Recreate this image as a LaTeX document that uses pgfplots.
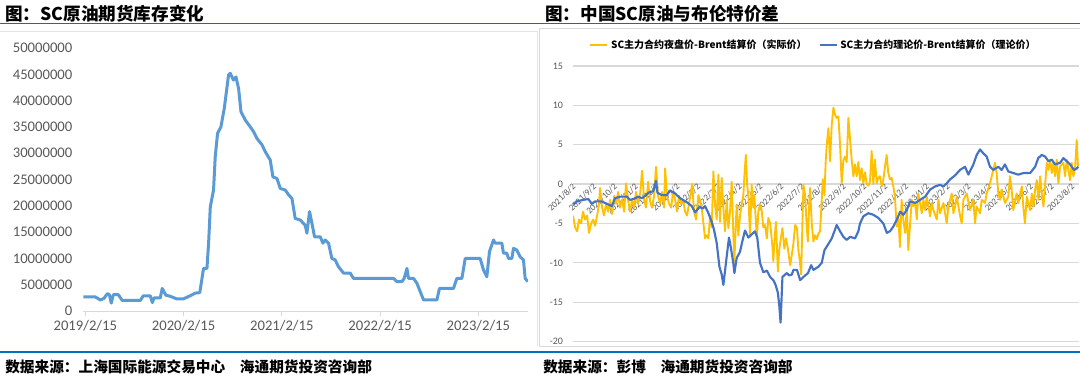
\documentclass[border=0pt]{standalone}
\usepackage{pgfplots}
\pgfplotsset{compat=1.18}
\usepackage{fontspec}
\setmainfont{Carlito}
\newfontfamily\cjk{Noto Sans CJK SC}
\definecolor{leftblue}{RGB}{91,155,213}
\definecolor{gold}{RGB}{255,192,0}
\definecolor{dblue}{RGB}{68,114,196}
\definecolor{rulecol}{RGB}{0,112,192}
\definecolor{gridgray}{RGB}{217,217,217}
\definecolor{tlabel}{RGB}{89,89,89}
\definecolor{framecol}{RGB}{228,228,228}
\begin{document}
\begin{tikzpicture}
\fill[white] (0,0) rectangle (810pt,285pt);
% frames
\draw[framecol, line width=0.6pt] (0,261.75pt) -- (402.75pt,261.75pt) -- (402.75pt,25.5pt);
\draw[gridgray, line width=0.6pt] (404.25pt,25.5pt) rectangle (815pt,264pt);
% rules
\draw[rulecol, line width=1.2pt] (0,267.4pt) -- (810pt,267.4pt);
\draw[rulecol, line width=1.2pt] (0,21pt) -- (810pt,21pt);
% titles
\node[anchor=west, inner sep=0pt] at (3.75pt,274.6pt) {\cjk\bfseries\fontsize{13.2}{15}\selectfont 图：SC原油期货库存变化};
\node[anchor=west, inner sep=0pt] at (408.75pt,274.6pt) {\cjk\bfseries\fontsize{13.2}{15}\selectfont 图：中国SC原油与布伦特价差};
% footers
\node[anchor=west, inner sep=0pt] at (3.75pt,9.75pt) {\cjk\bfseries\fontsize{11}{13}\selectfont 数据来源：上海国际能源交易中心\quad 海通期货投资咨询部};
\node[anchor=west, inner sep=0pt] at (407.25pt,9.75pt) {\cjk\bfseries\fontsize{11}{13}\selectfont 数据来源：彭博\quad 海通期货投资咨询部};

% ---------------- left chart ----------------
\begin{axis}[
  at={(62.5pt,51.75pt)}, anchor=south west,
  scale only axis, width=333.5pt, height=197.25pt,
  xmin=-0.02, xmax=4.505, ymin=0, ymax=50000000,
  enlargelimits=false,
  scaled y ticks=false, scaled x ticks=false,
  axis x line*=bottom, axis y line*=left,
  x axis line style={draw=gridgray, line width=0.75pt},
  y axis line style={draw=none},
  tick align=outside, major tick length=3.75pt,
  xtick={0,1,2,3,4},
  xticklabels={2019/2/15,2020/2/15,2021/2/15,2022/2/15,2023/2/15},
  xtick style={draw=gridgray, line width=0.75pt},
  ytick={0,5000000,10000000,15000000,20000000,25000000,30000000,35000000,40000000,45000000,50000000},
  yticklabels={0,5000000,10000000,15000000,20000000,25000000,30000000,35000000,40000000,45000000,50000000},
  ytick style={draw=none},
  ticklabel style={font=\fontsize{11}{12}\selectfont, text=tlabel},
  yticklabel style={xshift=-1pt},
]
\addplot[leftblue, line width=2.25pt, line join=round] coordinates {
(-0.02,2700000)(0.10,2700000)(0.153,2100000)(0.19,2400000)(0.224,3300000)(0.245,3100000)(0.264,1500000)(0.285,3100000)(0.336,3100000)(0.376,2000000)(0.56,2000000)(0.59,2900000)(0.661,2900000)(0.682,1600000)(0.70,2500000)(0.763,2500000)(0.783,4300000)(0.82,3000000)(0.865,2800000)(0.93,2300000)(0.997,2300000)(1.068,2900000)(1.119,3400000)(1.165,3500000)(1.19,6500000)(1.203,8100000)(1.238,8100000)(1.255,13000000)(1.272,19800000)(1.305,23000000)(1.322,29300000)(1.346,33800000)(1.380,35000000)(1.414,38500000)(1.458,44900000)(1.475,45200000)(1.492,44500000)(1.509,43900000)(1.533,44500000)(1.560,42300000)(1.584,37900000)(1.628,36300000)(1.679,35000000)(1.712,34100000)(1.747,32800000)(1.798,31600000)(1.831,30300000)(1.882,28700000)(1.909,25500000)(1.950,25200000)(1.984,23300000)(2.035,23000000)(2.068,22100000)(2.103,21400000)(2.136,17600000)(2.187,17300000)(2.238,16300000)(2.255,14800000)(2.282,18900000)(2.306,16700000)(2.333,14100000)(2.391,14100000)(2.418,12900000)(2.441,13500000)(2.475,12900000)(2.509,10000000)(2.543,9700000)(2.577,8400000)(2.628,7200000)(2.696,7200000)(2.729,6200000)(3.136,6200000)(3.171,5600000)(3.222,5600000)(3.245,6200000)(3.273,8100000)(3.289,6200000)(3.340,6200000)(3.374,5300000)(3.408,3700000)(3.442,2100000)(3.578,2100000)(3.604,4300000)(3.747,4300000)(3.781,6200000)(3.832,6200000)(3.866,10000000)(4.018,10000000)(4.052,7800000)(4.086,6500000)(4.113,11300000)(4.154,13500000)(4.171,12900000)(4.239,12900000)(4.255,11000000)(4.289,11000000)(4.306,10000000)(4.341,10000000)(4.357,11900000)(4.391,11600000)(4.425,10300000)(4.459,9700000)(4.476,6200000)(4.504,5600000)
};
\end{axis}

% ---------------- right chart ----------------
\begin{axis}[
  at={(429.75pt,28.875pt)}, anchor=south west,
  scale only axis, width=379.5pt, height=206.625pt,
  xmin=-0.1, xmax=24.23, ymin=-20, ymax=15,
  enlargelimits=false,
  axis x line*=middle, axis y line*=left,
  x axis line style={draw=gridgray, line width=0.9pt},
  y axis line style={draw=none},
  ymajorgrids, grid style={gridgray, line width=0.9pt},
  ytick={-20,-15,-10,-5,0,5,10,15},
  yticklabels={-20,-15,-10,-5,0,5,10,15},
  ytick style={draw=none}, xtick style={draw=none},
  major tick length=0pt,
  xtick={0,1,...,24},
  xticklabels={2021/8/2,2021/9/2,2021/10/2,2021/11/2,2021/12/2,2022/1/2,2022/2/2,2022/3/2,2022/4/2,2022/5/2,2022/6/2,2022/7/2,2022/8/2,2022/9/2,2022/10/2,2022/11/2,2022/12/2,2023/1/2,2023/2/2,2023/3/2,2023/4/2,2023/5/2,2023/6/2,2023/7/2,2023/8/2},
  xticklabel style={font=\fontsize{6.8}{8}\selectfont, text=tlabel, rotate=45, anchor=east, inner sep=1pt},
  yticklabel style={font=\fontsize{7.5}{8}\selectfont, text=tlabel, xshift=-4pt},
  legend style={at={(0.476,1.076)}, anchor=center, legend columns=2, draw=none, fill=none,
    font=\cjk\bfseries\fontsize{7.5}{9}\selectfont, inner sep=0pt,
    /tikz/every even column/.append style={column sep=7pt}},
  legend image code/.code={\draw[#1, line width=1.6pt] (0pt,0pt) -- (12.75pt,0pt);},
]
\addplot[gold, line width=1.4pt, line join=round] coordinates {
(-0.10,-4.0)(0.00,-5.5)(0.10,-6.0)(0.19,-4.5)(0.29,-5.0)(0.38,-3.5)(0.48,-4.5)(0.58,-4.0)(0.67,-6.2)(0.77,-5.0)(0.87,-4.5)(0.96,-5.3)(1.06,-4.0)(1.15,-2.5)(1.20,-0.5)(1.30,-3.0)(1.39,-4.0)(1.49,-2.5)(1.59,-3.5)(1.68,-2.0)(1.78,-3.8)(1.88,-1.5)(1.97,-2.5)(2.07,-1.0)(2.16,-3.0)(2.26,-2.0)(2.36,-3.5)(2.45,0.1)(2.55,-2.0)(2.64,-3.5)(2.74,-2.0)(2.84,-3.0)(2.93,-1.0)(3.03,-2.5)(3.13,-1.2)(3.22,1.7)(3.32,-2.0)(3.41,-3.0)(3.51,0.3)(3.61,-2.2)(3.70,-3.0)(3.80,-1.5)(3.89,2.2)(3.99,-1.5)(4.09,-2.5)(4.18,-1.0)(4.28,-3.0)(4.33,2.0)(4.42,-1.5)(4.52,-2.5)(4.62,-3.0)(4.71,-1.0)(4.81,-2.0)(4.90,-3.5)(5.00,-1.5)(5.10,-2.5)(5.19,-2.0)(5.29,-3.5)(5.38,-4.0)(5.48,-2.5)(5.63,0.0)(5.72,-3.5)(5.82,-4.5)(5.93,-1.4)(6.09,-3.0)(6.17,-5.0)(6.25,-6.9)(6.33,-6.5)(6.41,-6.9)(6.49,-4.0)(6.57,-5.5)(6.65,1.6)(6.73,-2.6)(6.81,-4.5)(6.89,1.2)(6.97,-4.8)(7.05,0.8)(7.13,-3.0)(7.21,-6.0)(7.29,-2.0)(7.37,-5.6)(7.45,-3.5)(7.53,0.3)(7.61,-6.5)(7.66,-9.8)(7.73,-5.0)(7.77,-2.6)(7.85,-6.5)(7.93,-4.0)(8.01,-2.6)(8.09,-1.4)(8.14,1.0)(8.21,3.7)(8.27,0.0)(8.33,-1.4)(8.41,-6.5)(8.49,-0.1)(8.57,-3.0)(8.62,-1.4)(8.74,-6.9)(8.81,-3.5)(8.89,-2.6)(8.98,-3.5)(9.05,-5.5)(9.13,-5.2)(9.22,-6.9)(9.29,-4.3)(9.38,-5.0)(9.42,-6.0)(9.49,-8.0)(9.53,-9.8)(9.62,-6.0)(9.66,-4.8)(9.75,-11.1)(9.81,-8.5)(9.89,-6.9)(9.97,-5.6)(10.06,-8.2)(10.14,-6.9)(10.22,-8.0)(10.34,-10.3)(10.42,-9.0)(10.50,-7.5)(10.58,-5.2)(10.67,-5.6)(10.74,-8.5)(10.79,-9.4)(10.87,-11.5)(10.93,-5.0)(10.98,-0.1)(11.06,-1.4)(11.14,-5.5)(11.19,-7.3)(11.25,-3.0)(11.30,-0.5)(11.38,-5.0)(11.46,-7.3)(11.54,-6.5)(11.62,-7.0)(11.70,-6.3)(11.78,-6.0)(11.86,-2.0)(11.91,0.6)(11.99,-1.4)(12.05,2.9)(12.10,5.0)(12.18,7.1)(12.26,2.9)(12.34,7.5)(12.42,9.7)(12.50,8.8)(12.58,8.4)(12.66,8.6)(12.74,5.0)(12.82,0.1)(12.90,3.0)(12.98,3.5)(13.06,2.8)(13.14,8.4)(13.22,5.7)(13.30,3.1)(13.38,1.0)(13.46,2.5)(13.54,1.0)(13.62,2.8)(13.70,0.5)(13.78,2.0)(13.86,0.1)(13.94,1.5)(14.02,0.0)(14.10,-0.2)(14.18,0.3)(14.26,4.2)(14.34,0.0)(14.42,3.1)(14.50,0.1)(14.58,0.8)(14.66,1.0)(14.74,-0.3)(14.82,0.5)(14.90,2.2)(14.98,3.7)(15.06,1.4)(15.14,0.6)(15.22,0.8)(15.30,-0.3)(15.38,-1.6)(15.46,-5.4)(15.54,-4.1)(15.62,-8.0)(15.70,-2.0)(15.78,-4.5)(15.87,-6.2)(15.95,-3.0)(16.02,-8.4)(16.11,-5.0)(16.19,-2.0)(16.26,-2.8)(16.35,-2.4)(16.43,-4.5)(16.50,-1.2)(16.59,-2.4)(16.67,-3.7)(16.75,-2.0)(16.83,-3.3)(16.91,-1.6)(17.07,-4.1)(17.15,-2.4)(17.23,-3.3)(17.39,-4.5)(17.47,-2.0)(17.55,-3.7)(17.71,-2.4)(17.87,-5.0)(17.95,-2.85)(18.11,-1.2)(18.19,-3.7)(18.27,-2.85)(18.35,-1.6)(18.51,-4.0)(18.59,-5.0)(18.67,-2.0)(18.83,-1.2)(18.99,-3.3)(19.15,-2.0)(19.23,-5.0)(19.31,-2.85)(19.47,-3.7)(19.55,-2.0)(19.71,-2.4)(19.79,-1.2)(19.95,0.1)(20.11,1.8)(20.19,2.7)(20.27,1.4)(20.35,-1.2)(20.43,-2.0)(20.51,-0.7)(20.67,-2.4)(20.83,-1.6)(20.91,1.0)(20.99,-0.7)(21.07,-3.3)(21.23,-1.2)(21.31,-2.4)(21.48,-0.3)(21.55,-2.85)(21.63,-5.0)(21.72,-1.6)(21.88,-3.3)(21.96,-1.2)(22.04,-2.85)(22.12,-0.7)(22.20,0.5)(22.28,-2.0)(22.36,1.0)(22.44,-1.2)(22.52,-2.85)(22.68,2.7)(22.76,1.8)(22.84,3.1)(22.92,1.4)(23.00,2.7)(23.08,1.0)(23.16,3.1)(23.24,0.1)(23.32,2.25)(23.48,2.7)(23.56,1.0)(23.64,3.1)(23.72,1.8)(23.80,0.5)(23.88,2.7)(23.96,1.0)(24.04,2.0)(24.12,5.6)(24.18,2.25)
};
\addlegendentry{SC主力合约夜盘价-Brent结算价（实际价）}
\addplot[dblue, line width=1.6pt, line join=round] coordinates {
(-0.08,-2.6)(0.08,-2.2)(0.40,-2.0)(0.64,-1.9)(0.80,-2.5)(0.96,-2.2)(1.28,-2.2)(1.52,-2.5)(1.76,-2.8)(1.92,-1.8)(2.16,-1.6)(2.49,-1.6)(2.64,-2.0)(2.80,-1.9)(3.04,-1.6)(3.21,-1.8)(3.37,-1.5)(3.52,-1.1)(3.76,-0.9)(3.89,0.4)(3.96,-1.1)(4.17,-1.4)(4.41,-1.4)(4.57,-0.8)(4.81,-1.2)(5.05,-1.8)(5.37,-2.3)(5.61,-2.8)(5.77,-3.6)(5.98,-2.9)(6.14,-3.1)(6.25,-2.8)(6.41,-3.7)(6.57,-4.8)(6.68,-5.8)(6.81,-7.5)(6.94,-10.5)(7.05,-11.5)(7.13,-12.8)(7.21,-11.0)(7.29,-9.2)(7.40,-6.8)(7.48,-7.9)(7.61,-10.1)(7.66,-11.3)(7.77,-9.4)(7.93,-8.6)(8.04,-7.3)(8.17,-5.9)(8.33,-6.8)(8.49,-6.4)(8.65,-6.0)(8.76,-6.8)(8.89,-10.0)(9.05,-11.2)(9.22,-11.0)(9.38,-11.8)(9.53,-12.2)(9.64,-12.8)(9.75,-13.8)(9.82,-15.5)(9.88,-17.6)(9.97,-11.8)(10.18,-11.3)(10.29,-11.6)(10.42,-11.5)(10.50,-10.9)(10.67,-10.9)(10.82,-12.2)(10.98,-11.8)(11.20,-11.3)(11.35,-10.3)(11.46,-10.9)(11.70,-10.5)(11.86,-10.0)(11.99,-8.4)(12.18,-7.6)(12.34,-6.9)(12.58,-5.2)(12.74,-6.0)(12.90,-6.7)(13.06,-7.1)(13.22,-6.7)(13.46,-6.9)(13.62,-6.0)(13.70,-5.0)(13.86,-4.1)(14.10,-3.7)(14.34,-3.9)(14.58,-4.3)(14.82,-5.0)(14.99,-6.2)(15.14,-6.0)(15.30,-5.4)(15.47,-4.5)(15.63,-3.5)(15.78,-3.9)(15.95,-3.3)(16.11,-2.2)(16.35,-2.4)(16.59,-2.0)(16.83,-1.6)(17.07,-0.7)(17.31,-0.3)(17.55,-0.1)(17.71,-0.3)(17.87,0.1)(18.03,0.6)(18.27,1.1)(18.51,1.8)(18.75,2.2)(18.91,1.2)(19.15,2.5)(19.31,3.7)(19.47,4.4)(19.63,3.9)(19.79,3.5)(19.95,2.2)(20.11,1.8)(20.35,2.2)(20.51,1.8)(20.67,2.5)(20.83,1.6)(21.07,1.4)(21.31,1.2)(21.55,1.4)(21.88,1.4)(22.12,2.2)(22.27,3.3)(22.44,3.7)(22.60,3.5)(22.76,2.9)(22.92,3.1)(23.08,2.5)(23.32,2.7)(23.48,3.3)(23.64,2.9)(23.80,2.5)(23.99,1.8)(24.13,2.0)(24.20,2.2)
};
\addlegendentry{SC主力合约理论价-Brent结算价（理论价）}
\end{axis}
\pgfresetboundingbox
\useasboundingbox (0,0) rectangle (810pt,285pt);
\end{tikzpicture}
\end{document}
